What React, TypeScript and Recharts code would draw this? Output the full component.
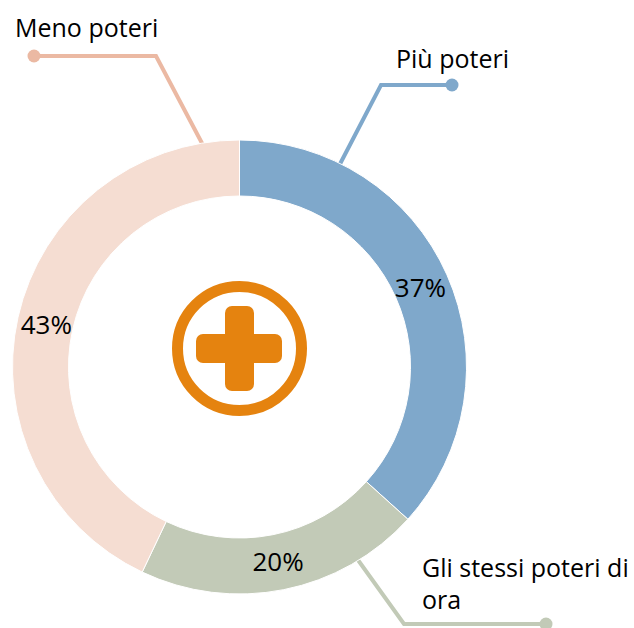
import React from "react";
import { PieChart, Pie, Cell } from "recharts";

const categories = ["Più poteri", "Gli stessi poteri di ora", "Meno poteri"];
const sliceValues = [36.7, 20.35, 42.95];
const sliceColors = ["#7FA8CB", "#C2CAB7", "#F5DDD2"];
const leaderColors = ["#7FA8CB", "#C2CAB7", "#EBB9A3"];
const leaderPoints = [
  [[340, 164], [381, 85], [452, 85]],
  [[358, 560], [404, 624], [546, 624]],
  [[204, 147], [156, 56], [34, 56]],
];
const categoryLines = [
  [{ text: "Più poteri", x: 396, y: 68 }],
  [{ text: "Gli stessi poteri di", x: 422, y: 577 }, { text: "ora", x: 422, y: 609 }],
  [{ text: "Meno poteri", x: 15, y: 37 }],
];

const data = categories.map((name, i) => ({ name, value: sliceValues[i] }));
const FONT = "'Open Sans', 'Noto Sans', sans-serif";
const RAD = Math.PI / 180;
const ICON = "#E5830F";

const renderLabel = (p: any) => {
  const r = 198;
  const x = p.cx + r * Math.cos(-p.midAngle * RAD);
  const y = p.cy + r * Math.sin(-p.midAngle * RAD);
  return (
    <text x={x} y={y} textAnchor="middle" dominantBaseline="central" fontFamily={FONT} fontSize={26} fill="#000">
      {`${Math.round(sliceValues[p.index])}%`}
    </text>
  );
};

export default function App() {
  return (
    <div style={{ position: "absolute", left: 0, top: 0, width: 634, height: 628 }}>
      <PieChart width={634} height={628} margin={{ top: 0, right: 0, bottom: 0, left: 0 }}>
        <Pie
          data={data}
          dataKey="value"
          nameKey="name"
          cx={239.5}
          cy={367}
          innerRadius={171}
          outerRadius={227}
          startAngle={90}
          endAngle={-270}
          stroke="#fff"
          strokeWidth={1}
          isAnimationActive={false}
          label={renderLabel}
          labelLine={false}
        >
          {data.map((d, i) => (
            <Cell key={d.name} fill={sliceColors[i]} />
          ))}
        </Pie>
        {leaderPoints.map((pts, i) => (
          <g key={i}>
            <polyline points={pts.map((q) => q.join(",")).join(" ")} fill="none" stroke={leaderColors[i]} strokeWidth={4} />
            <circle cx={pts[2][0]} cy={pts[2][1]} r={6.5} fill={leaderColors[i]} />
          </g>
        ))}
        {categoryLines.flat().map((l) => (
          <text key={l.text} x={l.x} y={l.y} fontFamily={FONT} fontSize={25} fill="#000">
            {l.text}
          </text>
        ))}
        <circle cx={239.5} cy={348.5} r={62} fill="#fff" stroke={ICON} strokeWidth={11} />
        <rect x={225} y={306} width={29} height={85} rx={7} fill={ICON} />
        <rect x={196} y={334} width={86} height={29} rx={7} fill={ICON} />
      </PieChart>
    </div>
  );
}
